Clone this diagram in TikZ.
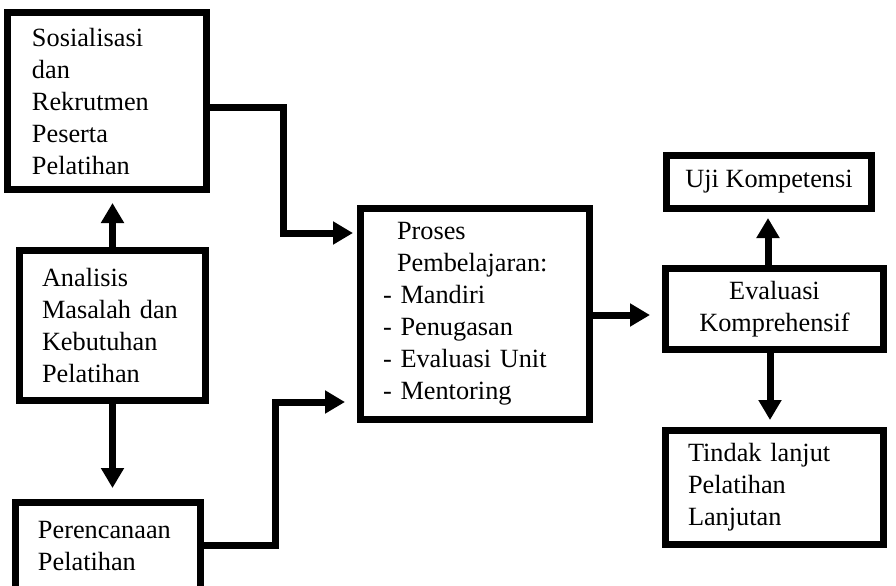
\documentclass[tikz,border=0pt]{standalone}
\usepackage{fontspec}
\setmainfont{Liberation Serif}
\usepackage{tikz}
\usetikzlibrary{arrows.meta}

\begin{document}
\begin{tikzpicture}[
    x=0.5pt, y=-0.5pt,
    font=\fontsize{13.15}{16}\selectfont,
    kotak/.style={draw=black, line width=3.5pt, align=left, outer sep=0pt, inner ysep=0pt, inner xsep=11.25pt},
    tengah/.style={kotak, align=center, inner xsep=0pt},
    panah/.style={-{Triangle[length=10pt, width=11pt]}, line width=3.5pt}
]
\useasboundingbox (0,0) rectangle (896,585);
\clip (0,0) rectangle (896,585);

% 1. Left column
\node[kotak, inner xsep=12.25pt, text width=75pt, minimum width=99.5pt, minimum height=88.5pt] (sos) at (107,101) {Sosialisasi\\dan\\Rekrutmen\\Peserta\\Pelatihan};

\node[kotak, text width=70.5pt, minimum width=93pt, minimum height=75pt] (analisis) at (112.5,325.5) {Analisis\\Masalah dan\\Kebutuhan\\Pelatihan};

\node[kotak, text width=70pt, minimum width=92.5pt, minimum height=43.5pt] (per) at (108,546) {Perencanaan\\Pelatihan};

% 2. Learning process
\node[kotak, text width=92pt, minimum width=114.5pt, minimum height=105.5pt] (proses) at (475,314) {
    \hspace*{7pt}Proses\\
    \hspace*{7pt}Pembelajaran:\\
    - Mandiri\\
    - Penugasan\\
    - Evaluasi Unit\\
    - Mentoring
};

% 3. Evaluation & outcomes
\node[tengah, minimum width=102.5pt, minimum height=26.5pt] (uji) at (769,182) {Uji Kompetensi};

\node[tengah, minimum width=109pt, minimum height=40.5pt] (eval) at (774.5,309) {Evaluasi\\Komprehensif};

\node[kotak, text width=86.5pt, minimum width=109pt, minimum height=57pt] (tindak) at (774.5,487.5) {Tindak lanjut\\Pelatihan\\Lanjutan};

% Connections / Arrows
\draw[panah, shorten >=6.75pt] (analisis.north) -- (analisis.north |- sos.south);
\draw[panah, shorten >=7.25pt] (analisis.south) -- (analisis.south |- per.north);

\draw[panah, shorten >=3.75pt] (sos.east |- 0,107) -- ++(76.5,0) |- (proses.west |- 0,233);
\draw[panah, shorten >=7.75pt] (per.east |- 0,545) -- ++(74.5,0) |- (proses.west |- 0,402);

\draw[panah, shorten >=7.75pt] (proses.east |- 0,315) -- (eval.west |- 0,315);

\draw[panah, shorten >=4.75pt] (eval.north -| 768,0) -- (uji.south -| 768,0);
\draw[panah, shorten >=5.25pt] (eval.south -| 770,0) -- (tindak.north -| 770,0);

\end{tikzpicture}
\end{document}
